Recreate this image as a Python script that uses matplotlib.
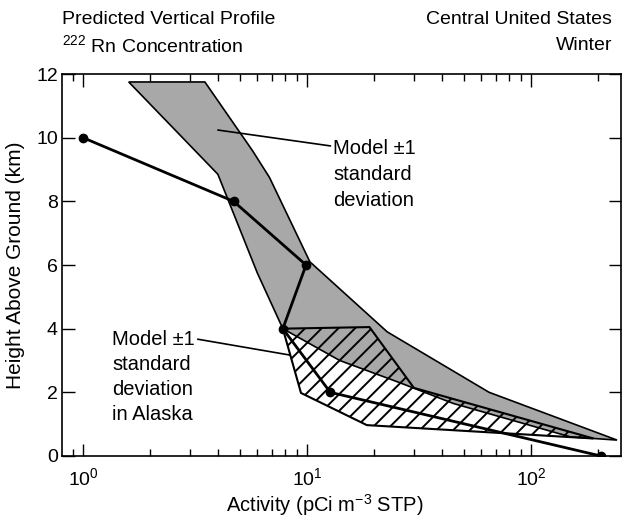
import matplotlib
matplotlib.use('Agg')
import matplotlib.pyplot as plt
from matplotlib.ticker import LogLocator, NullFormatter

# measured 222Rn profile (activity, height)
activity = [1.0, 4.7, 9.9, 7.8, 12.7, 205.0]
height = [10.0, 8.0, 6.0, 4.0, 2.0, 0.0]

# model +/-1 standard deviation, central US (polygon outline)
band_x = [1.6, 3.5, 5.7, 6.8, 10.3, 22.8, 65.0, 242.0, 150.0, 45.0, 26.0, 14.0, 7.8, 6.0, 4.0]
band_y = [11.75, 11.75, 9.6, 8.75, 6.1, 3.9, 2.0, 0.5, 0.6, 1.65, 2.3, 3.0, 4.0, 5.75, 8.85]

# model +/-1 standard deviation in Alaska (polygon outline)
ak_x = [7.8, 19.0, 30.0, 190.0, 18.5, 9.4]
ak_y = [4.0, 4.05, 2.14, 0.55, 0.97, 1.98]

fam = ['Liberation Sans', 'DejaVu Sans']
plt.rcParams['font.family'] = fam
plt.rcParams['mathtext.fontset'] = 'custom'
plt.rcParams['mathtext.rm'] = fam[0]
plt.rcParams['mathtext.it'] = fam[0]
plt.rcParams['hatch.linewidth'] = 1.4

fig = plt.figure(figsize=(6.22, 5.19), dpi=100)
ax = fig.add_axes([0.0997, 0.1214, 0.898, 0.736])

ax.fill(band_x, band_y, facecolor='#a8a8a8', edgecolor='black', lw=1.2, zorder=1)
ax.fill(ak_x, ak_y, facecolor='none', edgecolor='black', hatch='//', lw=1.5, zorder=2)
ax.plot(activity, height, color='black', lw=2, marker='o', ms=6, zorder=3)

ax.set_xscale('log')
ax.set_xlim(0.806, 251)
ax.set_ylim(0, 12)
ax.set_yticks([0, 2, 4, 6, 8, 10, 12])
ax.xaxis.set_major_locator(LogLocator(base=10))
ax.xaxis.set_minor_locator(LogLocator(base=10, subs=range(2, 10)))
ax.xaxis.set_minor_formatter(NullFormatter())
ax.tick_params(which='both', direction='in', top=True, right=True, labelsize=14, width=1)
ax.tick_params(which='major', length=9)
ax.tick_params(which='minor', length=5)
ax.tick_params(axis='y', pad=3)
ax.tick_params(axis='x', pad=8)
for s in ax.spines.values():
    s.set_linewidth(1.2)

ax.set_xlabel('Activity (pCi m$^{-3}$ STP)', fontsize=14.5, va='center')
ax.xaxis.set_label_coords(0.47, -0.128)
ax.set_ylabel('Height Above Ground (km)', fontsize=15, labelpad=8)

# band labels
ax.annotate('Model \u00b11\nstandard\ndeviation', xy=(4.0, 10.24), xytext=(13.1, 9.95),
            fontsize=14.5, ha='left', va='top', linespacing=1.45,
            arrowprops=dict(arrowstyle='-', color='black', lw=1.2, shrinkA=0, shrinkB=0,
                            relpos=(0, 0.9)))
ax.annotate('Model \u00b11\nstandard\ndeviation\nin Alaska', xy=(8.4, 3.17), xytext=(1.35, 3.95),
            fontsize=14.5, ha='left', va='top', linespacing=1.4,
            arrowprops=dict(arrowstyle='-', color='black', lw=1.2, shrinkA=0, shrinkB=0,
                            relpos=(1.0, 0.91)))

fig.text(0.0997, 0.962, 'Predicted Vertical Profile', fontsize=14, ha='left', va='center')
fig.text(0.0997, 0.913, '$^{222}$ Rn Concentration', fontsize=14, ha='left', va='center')
fig.text(0.984, 0.962, 'Central United States', fontsize=14, ha='right', va='center')
fig.text(0.984, 0.913, 'Winter', fontsize=14, ha='right', va='center')

plt.savefig('out.png', dpi=100)
